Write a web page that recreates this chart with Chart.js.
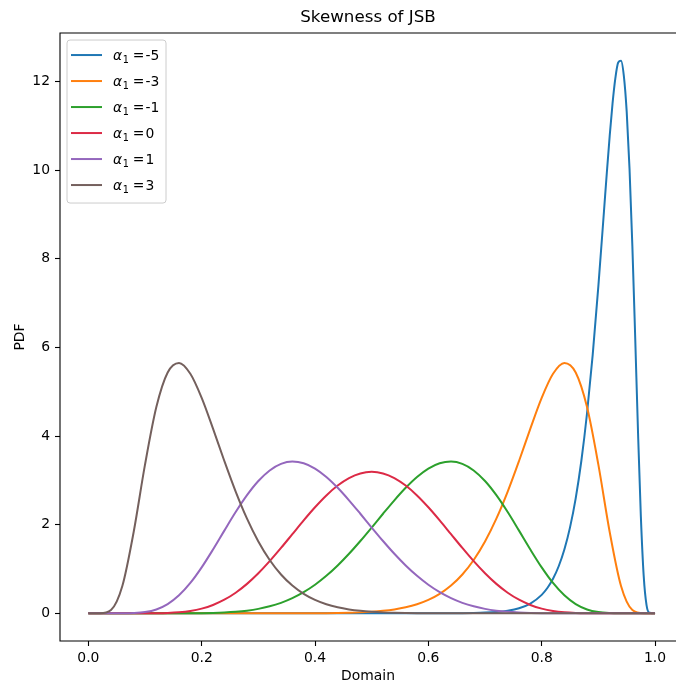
<!DOCTYPE html>
<html>
<head>
<meta charset="utf-8">
<title>Skewness of JSB</title>
<script src="https://cdn.jsdelivr.net/npm/chart.js@4.4.1/dist/chart.umd.min.js"></script>
<style>
    html, body { margin: 0; padding: 0; background: #fff; overflow: hidden; }
    #wrap { width: 676px; height: 689px; }
</style>
</head>
<body>
<div id="wrap"><canvas id="jsb-chart" width="676" height="689"></canvas></div>
<script>
// Shared domain grid (step 0.02)
const domain = [0, 0.02, 0.04, 0.06, 0.08, 0.10, 0.12, 0.14, 0.16, 0.18, 0.20, 0.22, 0.24, 0.26, 0.28, 0.30,
    0.32, 0.34, 0.36, 0.38, 0.40, 0.42, 0.44, 0.46, 0.48, 0.50, 0.52, 0.54, 0.56, 0.58, 0.60, 0.62, 0.64,
    0.66, 0.68, 0.70, 0.72, 0.74, 0.76, 0.78, 0.80, 0.82, 0.84, 0.86, 0.88, 0.90, 0.92, 0.94, 0.96, 0.98, 1.00];

// alpha1 = -5 is narrow, so it has its own finer domain
const domainNeg5 = [0, 0.64, 0.66, 0.68, 0.70, 0.72, 0.74, 0.76, 0.78, 0.80, 0.81, 0.82, 0.83, 0.84, 0.85,
    0.86, 0.87, 0.88, 0.89, 0.90, 0.91, 0.915, 0.92, 0.925, 0.93, 0.935, 0.94, 0.945, 0.95, 0.955, 0.96,
    0.965, 0.97, 0.975, 0.98, 0.985, 0.99, 1.00];
const pdfNeg5 = [0, 0.0021, 0.0042, 0.0082, 0.0161, 0.0313, 0.0605, 0.1159, 0.2209, 0.4173, 0.5716, 0.7804,
    1.0620, 1.4388, 1.9390, 2.5948, 3.4420, 4.5132, 5.8305, 7.3799, 9.0881, 9.950, 10.769, 11.498, 12.073,
    12.424, 12.466, 12.120, 11.317, 10.025, 8.2834, 6.221, 4.0779, 2.182, 0.8455, 0.185, 0.0124, 0];

const pdfNeg3 = [0, 0, 0, 0, 0, 0, 0, 0, 0, 0, 0, 0, 0, 0, 0, 0, 0.0001, 0.0003, 0.0006, 0.0012, 0.0023,
    0.0042, 0.0075, 0.0130, 0.0217, 0.0355, 0.0567, 0.0887, 0.1361, 0.2049, 0.3028, 0.4395, 0.6264, 0.8767,
    1.2041, 1.6206, 2.1350, 2.7461, 3.4367, 4.1662, 4.8595, 5.4028, 5.6468, 5.4321, 4.6523, 3.3533, 1.8357,
    0.6167, 0.0744, 0.0004, 0];

const pdfNeg1 = [0, 0, 0, 0, 0, 0, 0, 0.0001, 0.0005, 0.0016, 0.0040, 0.0091, 0.0186, 0.0348, 0.0609,
    0.1007, 0.1580, 0.2373, 0.3427, 0.4777, 0.6449, 0.8457, 1.0793, 1.3431, 1.6312, 1.9357, 2.2464, 2.5500,
    2.8320, 3.0760, 3.2657, 3.3859, 3.4238, 3.3710, 3.2235, 2.9850, 2.6658, 2.2846, 1.8658, 1.4393, 1.0365,
    0.6850, 0.4058, 0.2083, 0.0878, 0.0279, 0.0057, 0.0006, 0, 0, 0];

const pdfZero = [0, 0, 0, 0, 0.0001, 0.0006, 0.0027, 0.0091, 0.0243, 0.0544, 0.1068, 0.1888, 0.3069, 0.4650,
    0.6645, 0.9039, 1.1770, 1.4749, 1.7859, 2.0970, 2.3926, 2.6593, 2.8822, 3.0512, 3.1561, 3.1915, 3.1561,
    3.0512, 2.8822, 2.6593, 2.3926, 2.0970, 1.7859, 1.4749, 1.1770, 0.9039, 0.6645, 0.4650, 0.3069, 0.1888,
    0.1068, 0.0544, 0.0243, 0.0091, 0.0027, 0.0006, 0.0001, 0, 0, 0, 0];

const pdfPos1 = [0, 0, 0, 0.0006, 0.0057, 0.0279, 0.0878, 0.2083, 0.4058, 0.6850, 1.0365, 1.4393, 1.8658,
    2.2846, 2.6658, 2.9850, 3.2235, 3.3710, 3.4238, 3.3859, 3.2657, 3.0760, 2.8320, 2.5500, 2.2464, 1.9357,
    1.6312, 1.3431, 1.0793, 0.8457, 0.6449, 0.4777, 0.3427, 0.2373, 0.1580, 0.1007, 0.0609, 0.0348, 0.0186,
    0.0091, 0.0040, 0.0016, 0.0005, 0.0001, 0, 0, 0, 0, 0, 0, 0];

const pdfPos3 = [0, 0.0004, 0.0744, 0.6167, 1.8357, 3.3533, 4.6523, 5.4321, 5.6468, 5.4028, 4.8595, 4.1662,
    3.4367, 2.7461, 2.1350, 1.6206, 1.2041, 0.8767, 0.6264, 0.4395, 0.3028, 0.2049, 0.1361, 0.0887, 0.0567,
    0.0355, 0.0217, 0.0130, 0.0075, 0.0042, 0.0023, 0.0012, 0.0006, 0.0003, 0.0001, 0, 0, 0, 0, 0, 0, 0, 0,
    0, 0, 0, 0, 0, 0, 0, 0];

const alphaValues = ['-5', '-3', '-1', '0', '1', '3'];
const seriesColors = ['#1f77b4', '#ff7f0e', '#2ca02c', '#dc2a46', '#9467bd', '#74605d'];
const xTicks = [0, 0.2, 0.4, 0.6, 0.8, 1.0];
const yTicks = [0, 2, 4, 6, 8, 10, 12];

const FONT = '"DejaVu Sans", "Liberation Sans", sans-serif';


function ToPoints(xs, ys) {
    return xs.map((x, i) => ({x: x, y: ys[i]}));
}


// Left, top and bottom spines (the right one falls just outside the picture)
const framePlugin = {
    id: 'frame',
    afterDatasetsDraw(chart) {
        const ctx = chart.ctx;
        const a = chart.chartArea;
        ctx.save();
        ctx.strokeStyle = '#000';
        ctx.lineWidth = 1.1;
        ctx.beginPath();
        ctx.moveTo(a.right + 2, a.top);
        ctx.lineTo(a.left, a.top);
        ctx.lineTo(a.left, a.bottom);
        ctx.lineTo(a.right + 2, a.bottom);
        ctx.stroke();
        ctx.restore();
    }
};


// Legend box in the upper left corner of the axes
const legendPlugin = {
    id: 'boxLegend',
    afterDraw(chart) {
        const ctx = chart.ctx;
        const a = chart.chartArea;
        const x0 = a.left + 7, y0 = a.top + 7, w = 99, h = 163;
        ctx.save();
        ctx.beginPath();
        ctx.roundRect(x0, y0, w, h, 3);
        ctx.fillStyle = 'rgba(255,255,255,0.8)';
        ctx.fill();
        ctx.strokeStyle = '#cccccc';
        ctx.lineWidth = 1;
        ctx.stroke();

        for (let i = 0; i < alphaValues.length; i++) {
            const cy = y0 + 15 + i * 26;
            ctx.strokeStyle = seriesColors[i];
            ctx.lineWidth = 2;
            ctx.beginPath();
            ctx.moveTo(x0 + 4, cy);
            ctx.lineTo(x0 + 35, cy);
            ctx.stroke();

            const base = cy + 5;
            let tx = x0 + 46;
            ctx.fillStyle = '#000';
            ctx.textBaseline = 'alphabetic';
            ctx.textAlign = 'left';
            ctx.font = 'italic 13.9px ' + FONT;
            ctx.fillText('α', tx, base);
            tx += ctx.measureText('α').width + 0.5;
            ctx.font = '9.7px ' + FONT;
            ctx.fillText('1', tx, base + 3);
            tx += ctx.measureText('1').width + 4;
            ctx.font = '13.9px ' + FONT;
            ctx.fillText('=', tx, base);
            tx += ctx.measureText('=').width + 1;
            ctx.fillText(alphaValues[i], tx, base);
        }
        ctx.restore();
    }
};


document.addEventListener('DOMContentLoaded', function() {
    const series = [
        ToPoints(domainNeg5, pdfNeg5),
        ToPoints(domain, pdfNeg3),
        ToPoints(domain, pdfNeg1),
        ToPoints(domain, pdfZero),
        ToPoints(domain, pdfPos1),
        ToPoints(domain, pdfPos3)
    ];
    const datasets = [];
    for (let i = 0; i < series.length; i++) {
        datasets.push({
            label: 'α₁ = ' + alphaValues[i],
            data: series[i],
            borderColor: seriesColors[i],
            backgroundColor: seriesColors[i],
            borderWidth: 2,
            pointRadius: 0,
            cubicInterpolationMode: 'monotone',
            fill: false,
            // later series on top, as in matplotlib
            order: series.length - i
        });
    }

    new Chart(document.getElementById('jsb-chart'), {
        type: 'line',
        data: { datasets: datasets },
        plugins: [framePlugin, legendPlugin],
        options: {
            responsive: false,
            animation: false,
            layout: { padding: { left: 0, right: 0, top: 0, bottom: 0 } },
            plugins: {
                legend: { display: false },
                tooltip: { enabled: false },
                title: {
                    display: true,
                    text: 'Skewness of JSB',
                    fullSize: false,
                    color: '#000',
                    font: { family: FONT, size: 16.7, weight: 'normal' },
                    padding: { top: 8, bottom: 5 }
                }
            },
            scales: {
                x: {
                    type: 'linear',
                    min: -0.05,
                    max: 1.037,
                    afterBuildTicks: scale => { scale.ticks = xTicks.map(v => ({value: v})); },
                    afterFit: scale => { scale.height = 48; },
                    ticks: {
                        color: '#000',
                        font: { family: FONT, size: 13.9 },
                        padding: 4,
                        maxRotation: 0,
                        callback: value => value.toFixed(1)
                    },
                    grid: { drawOnChartArea: false, tickLength: 5, tickColor: '#000', tickWidth: 1.1 },
                    border: { display: false },
                    title: {
                        display: true,
                        text: 'Domain',
                        color: '#000',
                        font: { family: FONT, size: 13.9 },
                        padding: { top: 0, bottom: 4 }
                    }
                },
                y: {
                    type: 'linear',
                    min: -0.624,
                    max: 13.09,
                    afterBuildTicks: scale => { scale.ticks = yTicks.map(v => ({value: v})); },
                    afterFit: scale => { scale.width = 60; },
                    ticks: {
                        color: '#000',
                        font: { family: FONT, size: 13.9 },
                        padding: 5,
                        callback: value => String(value)
                    },
                    grid: { drawOnChartArea: false, tickLength: 5, tickColor: '#000', tickWidth: 1.1 },
                    border: { display: false },
                    title: {
                        display: true,
                        text: 'PDF',
                        color: '#000',
                        font: { family: FONT, size: 13.9 },
                        padding: { top: 12, bottom: 0 }
                    }
                }
            }
        }
    });
});
</script>
</body>
</html>
